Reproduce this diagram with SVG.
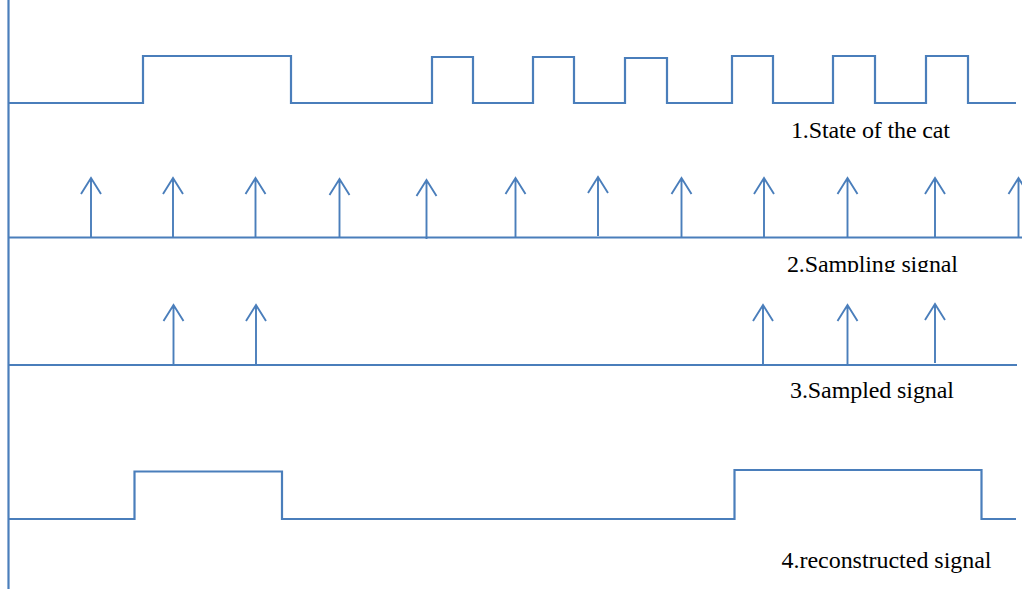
<svg xmlns="http://www.w3.org/2000/svg" width="1022" height="589" viewBox="0 0 1022 589">
<style>
.ln{stroke:#4a7ebb;stroke-width:2.2;fill:none}
.ar{stroke:#4a7ebb;stroke-width:1.9;fill:none}
.lb{font-family:"Liberation Serif","Times New Roman",serif;font-size:24px;fill:#000}
</style>
<defs>
<path id="arw" d="M0,0 V-59 M-10,-43 L0,-59 L10,-43"/>
<clipPath id="cl2"><rect x="700" y="240" width="322" height="32"/></clipPath>
</defs>
<rect width="1022" height="589" fill="#fff"/>
<g id="axis"><line class="ln" x1="8.5" y1="0" x2="8.5" y2="589"/></g>
<g id="row1">
<path class="ln" d="M8,103 H143 V56 H291 V103 H432 V57 H473 V103 H533 V57 H574 V103 H625 V58 H667 V103 H732 V56 H773 V103 H833 V56 H875 V103 H926 V56 H968 V103 H1016"/>
<text class="lb" x="791" y="138" textLength="159">1.State of the cat</text>
</g>
<g id="row2">
<line class="ln" x1="8" y1="237.5" x2="1022" y2="237.5"/>
<use href="#arw" class="ar" x="91" y="237"/>
<use href="#arw" class="ar" x="173" y="237"/>
<use href="#arw" class="ar" x="255.5" y="237"/>
<use href="#arw" class="ar" x="339.5" y="238"/>
<use href="#arw" class="ar" x="426.5" y="239"/>
<use href="#arw" class="ar" x="515.5" y="237"/>
<use href="#arw" class="ar" x="598" y="236"/>
<use href="#arw" class="ar" x="681.5" y="237"/>
<use href="#arw" class="ar" x="764" y="237"/>
<use href="#arw" class="ar" x="847.5" y="237"/>
<use href="#arw" class="ar" x="935" y="237"/>
<use href="#arw" class="ar" x="1018.5" y="237"/>
<text class="lb" x="787" y="272" textLength="171" clip-path="url(#cl2)">2.Sampling signal</text>
</g>
<g id="row3">
<line class="ln" x1="8" y1="365" x2="1017" y2="365"/>
<use href="#arw" class="ar" x="173.5" y="364"/>
<use href="#arw" class="ar" x="256" y="364"/>
<use href="#arw" class="ar" x="763" y="364"/>
<use href="#arw" class="ar" x="847.5" y="364"/>
<use href="#arw" class="ar" x="935" y="363"/>
<text class="lb" x="790" y="398" textLength="164">3.Sampled signal</text>
</g>
<g id="row4">
<path class="ln" d="M8,519 H134.5 V471.5 H282 V519 H734.5 V470 H981.5 V519 H1016"/>
<text class="lb" x="781.5" y="568" textLength="210">4.reconstructed signal</text>
</g>
</svg>
